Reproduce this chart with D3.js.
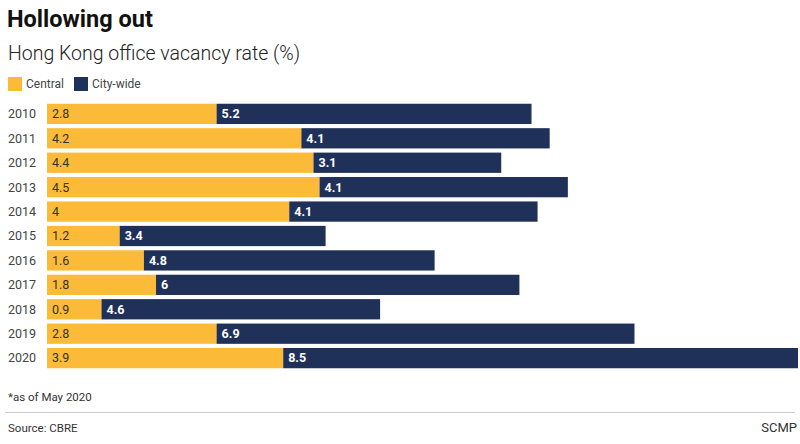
<!DOCTYPE html>
<html><head><meta charset="utf-8">
<script src="https://cdn.jsdelivr.net/npm/d3@7"></script>
<style>
html,body{margin:0;padding:0;background:#fff;}
svg{display:block;font-family:Roboto,"Noto Sans",sans-serif;}
</style></head>
<body><svg id="c" width="800" height="444"></svg>
<script>
const years = ["2010","2011","2012","2013","2014","2015","2016","2017","2018","2019","2020"];
const central = [2.8,4.2,4.4,4.5,4,1.2,1.6,1.8,0.9,2.8,3.9];
const citywide = [5.2,4.1,3.1,4.1,4.1,3.4,4.8,6,4.6,6.9,8.5];
const seriesNames = ["Central","City-wide"];
const colors = ["#FBBA38","#1F3059"];

const svg = d3.select("#c");
const W = 800;
const x = d3.scaleLinear().domain([0, 12.4]).range([47, 798]);
const y = d3.scaleBand().domain(years).range([101.8, 370.2]).paddingInner(0.17).paddingOuter(0.08);

svg.append("text").attr("x",7).attr("y",27).attr("font-size",23.5).attr("font-weight",700).attr("fill","#111").text("Hollowing out");
svg.append("text").attr("x",8).attr("y",60).attr("font-size",19.5).attr("font-weight",300).attr("fill","#222").text("Hong Kong office vacancy rate (%)");

const lg = svg.append("g");
const legX = [8,74];
seriesNames.forEach((n,i)=>{
  lg.append("rect").attr("x",legX[i]).attr("y",77).attr("width",14).attr("height",14).attr("fill",colors[i]);
  lg.append("text").attr("x",legX[i]+18).attr("y",88).attr("font-size",12).attr("fill","#444").text(n);
});

const data = years.map((yr,i)=>({year:yr, c:central[i], w:citywide[i]}));
const g = svg.append("g");
data.forEach(d=>{
  const y0 = y(d.year), h = y.bandwidth();
  g.append("rect").attr("x",x(0)).attr("y",y0).attr("width",x(d.c)-x(0)).attr("height",h).attr("fill",colors[0]);
  g.append("rect").attr("x",x(d.c)).attr("y",y0).attr("width",x(d.c+d.w)-x(d.c)).attr("height",h).attr("fill",colors[1]);
  g.append("text").attr("x",x(0)+5).attr("y",y0+h/2).attr("dy","0.35em").attr("font-size",12.5).attr("fill","#333").text(d.c);
  g.append("text").attr("x",x(d.c)+5).attr("y",y0+h/2).attr("dy","0.35em").attr("font-size",12.5).attr("font-weight",700).attr("fill","#fff").text(d.w);
  g.append("text").attr("x",8).attr("y",y0+h/2).attr("dy","0.35em").attr("font-size",12.5).attr("fill","#444").text(d.year);
});

svg.append("text").attr("x",8).attr("y",401).attr("font-size",11.5).attr("fill","#333").text("*as of May 2020");
svg.append("line").attr("x1",5).attr("x2",W-5).attr("y1",412.5).attr("y2",412.5).attr("stroke","#ccc").attr("stroke-width",1);
svg.append("text").attr("x",8).attr("y",432).attr("font-size",11.5).attr("fill","#333").text("Source: CBRE");
svg.append("text").attr("x",W-3).attr("y",432).attr("text-anchor","end").attr("font-size",13).attr("fill","#333").text("SCMP");
</script></body></html>
